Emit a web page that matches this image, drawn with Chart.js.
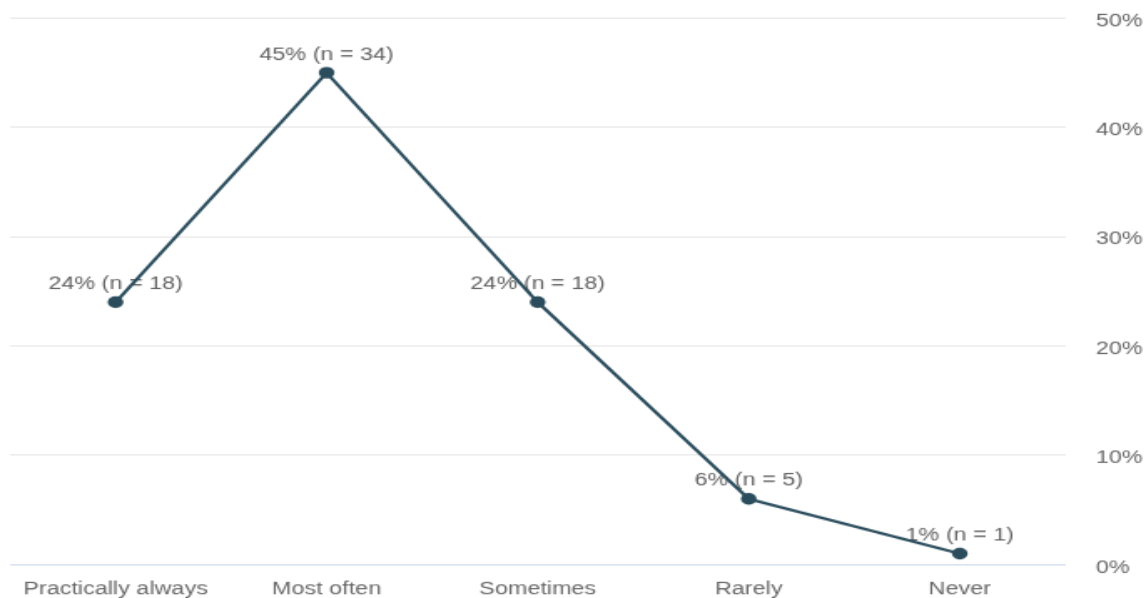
<!DOCTYPE html>
<html>
<head>
<meta charset="utf-8">
<title>Frequency</title>
<script src="https://cdn.jsdelivr.net/npm/chart.js@4/dist/chart.umd.min.js"></script>
<style>
  html, body { margin: 0; padding: 0; background: #ffffff; overflow: hidden; }
  #chart { display: block; }
</style>
</head>
<body>
<canvas id="chart" width="686" height="478" style="width:1146px;height:598px"></canvas>
<script>
// Answer categories and results
const categories = ['Practically always', 'Most often', 'Sometimes', 'Rarely', 'Never'];
const shares = [24, 45, 24, 6, 1];      // percent of respondents
const counts = [18, 34, 18, 5, 1];      // number of respondents
const yTickValues = [0, 10, 20, 30, 40, 50];

const FONT = '"Liberation Sans", Arial, Helvetica, sans-serif';
const LINE_COLOR = '#2a4c5c';
const TEXT_COLOR = '#666666';

// Draws "xx% (n = y)" above each point, underneath the line
const pointLabels = {
  id: 'pointLabels',
  beforeDatasetsDraw(chart) {
    const ctx = chart.ctx;
    const meta = chart.getDatasetMeta(0);
    ctx.save();
    ctx.font = '14px ' + FONT;
    ctx.fillStyle = '#606060';
    ctx.textAlign = 'center';
    ctx.textBaseline = 'middle';
    meta.data.forEach((pt, i) => {
      ctx.fillText(shares[i] + '% (n = ' + counts[i] + ')', pt.x, pt.y - 14.4);
    });
    ctx.restore();
  }
};

new Chart(document.getElementById('chart'), {
  type: 'line',
  data: {
    labels: categories,
    datasets: [{
      data: shares,
      borderColor: LINE_COLOR,
      backgroundColor: LINE_COLOR,
      borderWidth: 2.2,
      pointRadius: 4.7,
      pointBorderWidth: 0,
      pointBackgroundColor: LINE_COLOR,
      tension: 0,
      fill: false
    }]
  },
  options: {
    responsive: false,
    animation: false,
    devicePixelRatio: 1,
    layout: { autoPadding: false, padding: { top: 14.4, left: 6, right: 2, bottom: 0 } },
    plugins: {
      legend: { display: false },
      tooltip: { enabled: false },
      title: { display: false }
    },
    scales: {
      x: {
        offset: true,
        afterFit(scale) {
          scale.height = 26.8;
          scale.paddingLeft = 0;
          scale.paddingRight = 0;
        },
        grid: { display: false, drawTicks: false },
        border: { display: true, color: '#ccd6eb', width: 1 },
        ticks: {
          padding: 12,
          color: TEXT_COLOR,
          font: { family: FONT, size: 14 },
          maxRotation: 0,
          autoSkip: false
        }
      },
      y: {
        position: 'right',
        min: 0,
        max: 50,
        afterFit(scale) {
          scale.width = 46.3;
          scale.paddingTop = 0;
          scale.paddingBottom = 0;
        },
        afterBuildTicks(scale) {
          scale.ticks = yTickValues.map(v => ({ value: v }));
        },
        grid: {
          drawTicks: false,
          color: ctx => (ctx.tick && ctx.tick.value === 0) ? 'rgba(0,0,0,0)' : '#e6e6e6',
          lineWidth: 1
        },
        border: { display: false },
        ticks: {
          padding: 18.3,
          labelOffset: 2.5,
          color: TEXT_COLOR,
          font: { family: FONT, size: 14 },
          callback: v => v + '%'
        }
      }
    }
  },
  plugins: [pointLabels]
});
</script>
</body>
</html>
